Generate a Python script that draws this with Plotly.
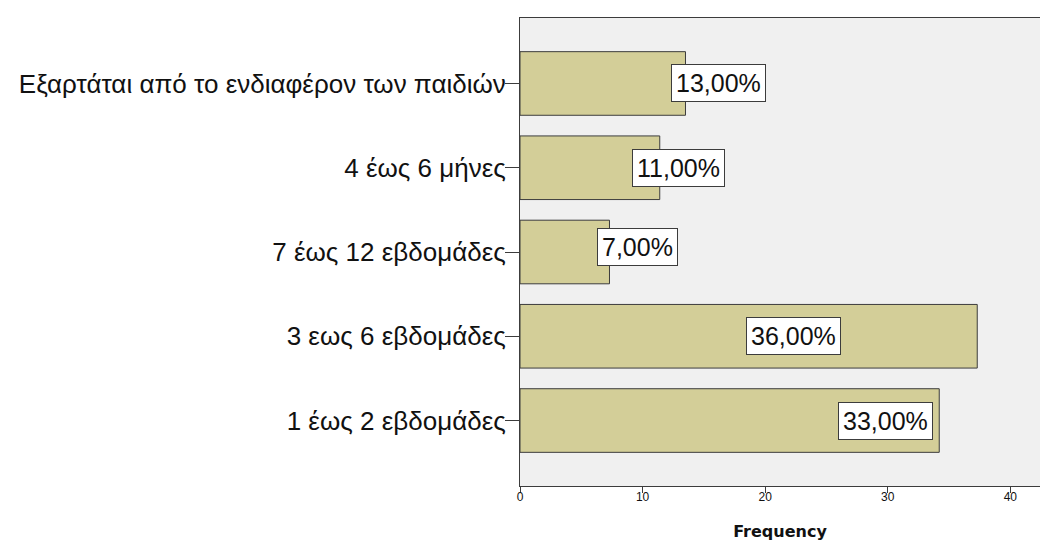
import plotly.graph_objects as go

categories = ["1 έως 2 εβδομάδες", "3 εως 6 εβδομάδες", "7 έως 12 εβδομάδες",
              "4 έως 6 μήνες", "Εξαρτάται από το ενδιαφέρον των παιδιών"]
frequency = [34.2, 37.3, 7.3, 11.4, 13.5]
percent_labels = ["33,00%", "36,00%", "7,00%", "11,00%", "13,00%"]
x_ticks = [0, 10, 20, 30, 40]

# label box positions (data units along x), as placed in the original chart
label_x = [29.8, 22.3, 9.57, 12.95, 16.2]
label_dy = [0, 0, 0.06, 0, 0]

FONT = "Liberation Sans, Arial"

fig = go.Figure()
fig.add_trace(go.Bar(
    y=list(range(len(categories))), x=frequency, orientation="h",
    marker=dict(color="#D3CE98", line=dict(color="#3C3C3C", width=1)),
    width=0.755, hoverinfo="skip",
))

for i, (lx, lab) in enumerate(zip(label_x, percent_labels)):
    fig.add_annotation(
        x=lx, y=i + label_dy[i], text=lab, showarrow=False,
        font=dict(family=FONT, size=25, color="#111111"),
        bgcolor="#FFFFFF", bordercolor="#3C3C3C", borderwidth=1, borderpad=4,
    )

fig.update_layout(
    width=1040, height=541,
    margin=dict(l=520, r=0, t=18, b=55),
    paper_bgcolor="#FFFFFF", plot_bgcolor="#F0F0F0",
    showlegend=False,
    xaxis=dict(
        range=[0, 42.42], tickmode="array", tickvals=x_ticks,
        ticks="outside", ticklen=6, tickcolor="#3C3C3C",
        tickfont=dict(family=FONT, size=12, color="#111111"),
        ticklabelstandoff=-6,
        showgrid=False, zeroline=False,
        showline=True, linecolor="#3C3C3C", linewidth=1, mirror=True,
        title=dict(text="<b>Frequency</b>", standoff=26,
                   font=dict(family="DejaVu Sans", size=16, color="#111111")),
    ),
    yaxis=dict(
        range=[-0.777, 4.777], tickmode="array",
        tickvals=list(range(len(categories))), ticktext=categories,
        ticks="outside", ticklen=14, tickcolor="#3C3C3C",
        tickfont=dict(family=FONT, size=26, color="#111111"),
        ticklabelstandoff=-6,
        showgrid=False, zeroline=False,
        showline=True, linecolor="#3C3C3C", linewidth=1, mirror=True,
    ),
)

fig.write_html("out.html")
